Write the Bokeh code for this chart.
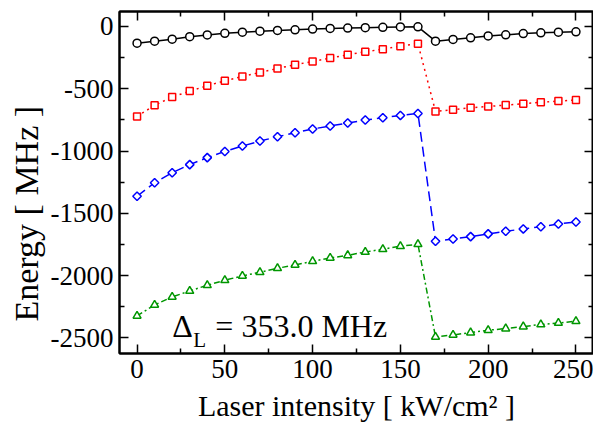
import math
from bokeh.plotting import figure
from bokeh.models import LinearAxis, FixedTicker, Label, Range1d, Title
from bokeh.embed import file_html
from bokeh.resources import INLINE

# ---- data ----
intensity = [0, 10, 20, 30, 40, 50, 60, 70, 80, 90, 100, 110, 120, 130, 140, 150, 160,
             170, 180, 190, 200, 210, 220, 230, 240, 250]

level_black = [-134, -118, -102, -82, -68, -55, -46, -38, -32, -27, -21, -16, -13, -10, -7, -4, -3,
               -118, -104, -91, -76, -67, -57, -51, -46, -43]
level_red = [-722, -633, -567, -519, -476, -436, -401, -369, -337, -307, -281, -254, -227, -203, -182, -158, -139,
             -682, -668, -653, -642, -631, -620, -609, -599, -591]
level_blue = [-1363, -1254, -1174, -1109, -1053, -1003, -960, -920, -885, -853, -823, -799, -775, -751, -733, -714, -698,
              -1724, -1706, -1687, -1665, -1644, -1625, -1607, -1585, -1569]
level_green = [-2323, -2235, -2171, -2123, -2077, -2037, -2002, -1973, -1941, -1914, -1885, -1858, -1837, -1810, -1788, -1764, -1748,
               -2492, -2476, -2457, -2438, -2425, -2409, -2392, -2380, -2366]

x_ticks = [0, 50, 100, 150, 200, 250]
x_minor = [-25, 25, 75, 125, 175, 225, 275]
y_ticks = [0, -500, -1000, -1500, -2000, -2500]
y_minor = [250, -250, -750, -1250, -1750, -2250, -2750]
y_tick_text = ["0", "-500", "-1000", "-1500", "-2000", "-2500"]

x_label = "Laser intensity [ kW/cm\u00b2 ]"
y_label = "Energy [ MHz ]"
note_main = "\u0394"
note_sub = "L"
note_rest = "= 353.0 MHz"

FONT = "Liberation Serif"

p = figure(frame_width=474, frame_height=342, x_range=Range1d(-10, 260), y_range=Range1d(-2625, 120),
           output_backend="svg", toolbar_location=None,
           min_border_left=119, min_border_right=0, min_border_top=11, min_border_bottom=58,
           x_axis_label=x_label)
p.grid.visible = False
p.outline_line_color = "black"
p.outline_line_width = 2
p.background_fill_color = "white"
p.border_fill_color = "white"

p.xaxis.ticker = FixedTicker(ticks=x_ticks, minor_ticks=x_minor)
p.yaxis.ticker = FixedTicker(ticks=y_ticks, minor_ticks=y_minor)
p.yaxis.major_label_overrides = {t: s for t, s in zip(y_ticks, y_tick_text)}

for ax in list(p.xaxis) + list(p.yaxis):
    ax.major_tick_in = 9
    ax.major_tick_out = 0
    ax.minor_tick_in = 5
    ax.minor_tick_out = 0
    ax.major_tick_line_width = 1.5
    ax.minor_tick_line_width = 1.5
    ax.axis_line_width = 2
    ax.major_label_text_font = FONT
    ax.major_label_text_font_size = "27px"
    ax.major_label_text_color = "black"
    ax.axis_label_text_font = FONT
    ax.axis_label_text_font_size = "30px"
    ax.axis_label_text_font_style = "normal"
    ax.axis_label_text_color = "black"
p.xaxis.major_label_standoff = 6
p.yaxis.major_label_standoff = 6
p.xaxis.axis_label_standoff = 8

top = LinearAxis(ticker=FixedTicker(ticks=x_ticks, minor_ticks=x_minor))
right = LinearAxis(ticker=FixedTicker(ticks=y_ticks, minor_ticks=y_minor))
for ax in (top, right):
    ax.major_tick_in = 9
    ax.major_tick_out = 0
    ax.minor_tick_in = 5
    ax.minor_tick_out = 0
    ax.major_tick_line_width = 1.5
    ax.minor_tick_line_width = 1.5
    ax.axis_line_width = 2
    ax.major_label_text_font_size = "0px"
    ax.major_label_text_color = None
    ax.major_label_standoff = 0
p.add_layout(top, "above")
p.add_layout(right, "right")

# y-axis title: left of the tick labels, lower than centre as in the original
p.add_layout(Title(text=y_label, align="left", offset=32, standoff=6,
                   text_font=FONT, text_font_size="34px", text_font_style="normal",
                   text_color="black"), "left")

series = [
    (level_black, "black", "solid", "circle", 8, 0),
    (level_red, "#ff0000", "2 4", "square", 7, 0),
    (level_blue, "#0000ff", "10 5", "square", 6, math.pi / 4),
    (level_green, "#009600", "6 3 2 3", "triangle", 8, 0),
]
for ys, col, dash, marker, sz, ang in series:
    p.line(intensity, ys, line_color=col, line_width=1.5, line_dash=dash)
    p.scatter(intensity, ys, marker=marker, size=sz, angle=ang, line_color=col,
              fill_color="white", line_width=1.5)

p.add_layout(Label(x=20, y=-2404, text=note_main, text_font=FONT, text_font_size="32px",
                   text_baseline="alphabetic", text_align="left", text_color="black"))
p.add_layout(Label(x=32, y=-2518, text=note_sub, text_font=FONT, text_font_size="21px",
                   text_baseline="alphabetic", text_align="left", text_color="black"))
p.add_layout(Label(x=44.6, y=-2404, text=note_rest, text_font=FONT, text_font_size="32px",
                   text_baseline="alphabetic", text_align="left", text_color="black"))

open("out.html", "w").write(file_html(p, INLINE))
